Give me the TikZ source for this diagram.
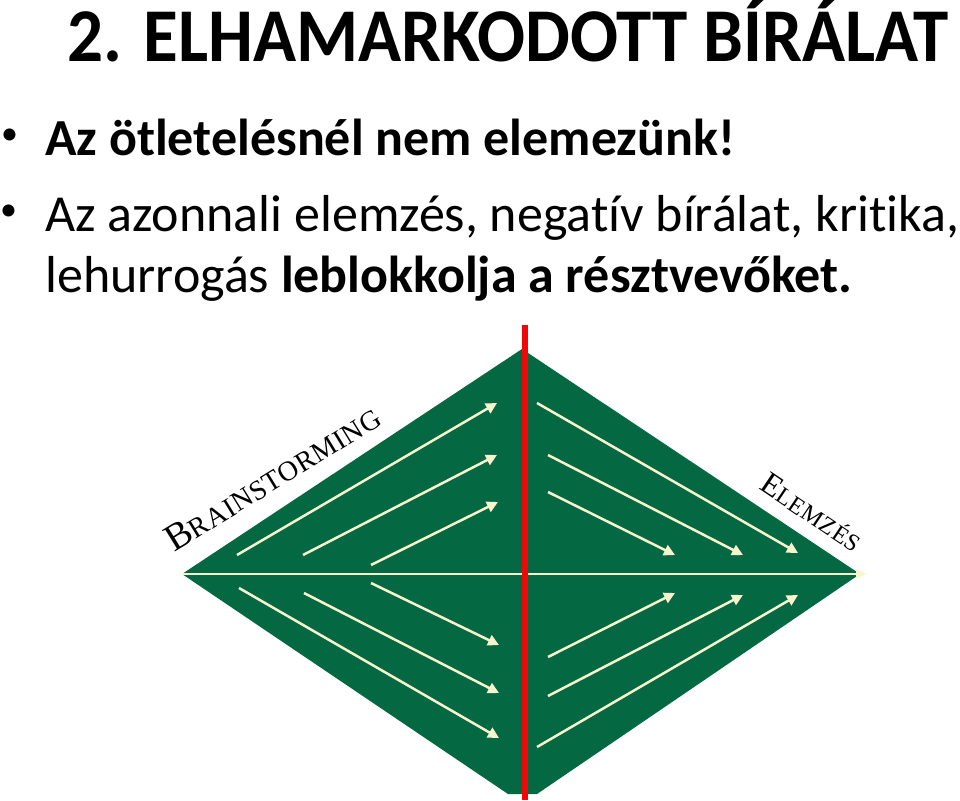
\documentclass[tikz,border=0pt]{standalone}
\usepackage{fontspec}
\setsansfont{Carlito}[Ligatures=NoCommon]
\newfontfamily\trajan{Liberation Serif}[LetterSpace=2]
\usetikzlibrary{arrows.meta}
\definecolor{boardgreen}{RGB}{4,104,66}
\definecolor{cream}{RGB}{248,244,205}
\definecolor{redline}{RGB}{240,8,8}
\tikzset{
  txt/.style={anchor=base west, inner sep=0pt, font=\sffamily},
  bul/.style={anchor=center, inner sep=0pt, font=\sffamily\fontsize{34}{34}\selectfont},
  flow/.style={draw=cream, line width=2.5pt, -{Triangle[length=11pt,width=11pt]}},
  lbl/.style={inner sep=0pt, anchor=base, font=\trajan}
}
\newcommand{\capsize}[2]{{\fontsize{#1}{#1}\selectfont #2}}
\begin{document}
\begin{tikzpicture}[x=1pt,y=-1pt]
\useasboundingbox (0,0) rectangle (960,800);
% title and bullets
\node[txt, font=\sffamily\bfseries\fontsize{76}{76}\selectfont] (title) at (67,61) {\scalebox{0.935}[1]{2. ELHAMARKODOTT BÍRÁLAT}};
\node[bul] (b1) at (9.5,137) {•};
\node[txt, font=\sffamily\bfseries\fontsize{52}{52}\selectfont] (l1) at (45,155) {Az ötletelésnél nem elemezünk!};
\node[bul] (b2) at (8.5,213) {•};
\node[txt, font=\sffamily\fontsize{52}{52}\selectfont] (l2) at (45,231) {Az azonnali elemzés, negatív bírálat, kritika,};
\node[txt, font=\sffamily\fontsize{52}{52}\selectfont] (l3) at (45,292) {lehurrogás \textbf{leblokkolja a résztvevőket.}};
% diamond
\fill[boardgreen] (522,349) -- (860,574) -- (537,794) -- (508,794) -- (182,574) -- cycle;
% horizontal line
\draw[draw=cream, line width=2pt, -{Triangle[length=10pt,width=9pt]}] (182,574) -- (866,574);
% upper left arrows
\draw[flow] (237,555) -- (497,403);
\draw[flow] (303,555) -- (497,455);
\draw[flow] (371,565) -- (498,502);
% upper right arrows
\draw[flow] (537,403) -- (798,553);
\draw[flow] (548,455) -- (743,555);
\draw[flow] (548,492) -- (675,555);
% lower left arrows
\draw[flow] (371,583) -- (499,645);
\draw[flow] (304,593) -- (499,693);
\draw[flow] (239,588) -- (499,738);
% lower right arrows
\draw[flow] (548,657) -- (675,593);
\draw[flow] (548,696) -- (743,595);
\draw[flow] (537,747) -- (798,595);
% red line
\draw[redline, line width=6pt] (525,325) -- (525,800);
% labels
\node[lbl, rotate=31.6] (brain) at (279,488) {\capsize{38}{B}\capsize{28}{RAINSTORMING}};
\node[lbl, rotate=-34] (elem) at (806,521) {\capsize{32}{E}\capsize{24}{LEMZÉS}};
\end{tikzpicture}
\end{document}
